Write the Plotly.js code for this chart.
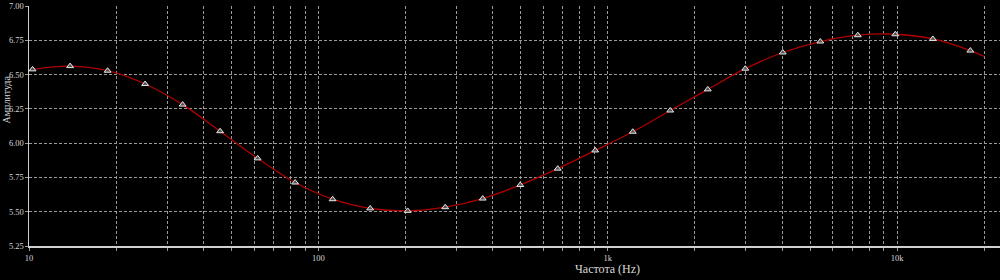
<!DOCTYPE html>
<html>
<head>
<meta charset="utf-8">
<script src="https://cdn.plot.ly/plotly-3.0.1.min.js"></script>
<style>html,body{margin:0;padding:0;background:#000;}#chart{width:1000px;height:280px;}</style>
</head>
<body>
<div id="chart"></div>
<script>
// Marker frequencies (Hz) and amplitudes
var markerFreq = [10.29, 13.87, 18.69, 25.19, 33.95, 45.76, 61.67, 83.11, 112.0, 151.0,
  203.5, 274.3, 369.7, 498.3, 671.5, 905.1, 1220, 1644, 2216, 2987,
  4025, 5426, 7313, 9856, 13284, 17904];
var markerAmp = [6.538, 6.562, 6.528, 6.431, 6.281, 6.087, 5.889, 5.713, 5.591, 5.524,
  5.506, 5.533, 5.596, 5.695, 5.814, 5.947, 6.083, 6.238, 6.392, 6.543,
  6.661, 6.741, 6.787, 6.794, 6.760, 6.675];
// Curve points
var curveFreq = [10, 10.29, 13.87, 18.69, 25.19, 33.95, 45.76, 61.67, 83.11, 112.0, 151.0,
  203.5, 274.3, 369.7, 498.3, 671.5, 905.1, 1220, 1644, 2216, 2987,
  4025, 5426, 7313, 9856, 13284, 17904, 20000];
var curveAmp = [6.533, 6.538, 6.562, 6.528, 6.431, 6.281, 6.087, 5.889, 5.713, 5.591, 5.524,
  5.506, 5.533, 5.596, 5.695, 5.814, 5.947, 6.083, 6.238, 6.392, 6.543,
  6.661, 6.741, 6.787, 6.794, 6.760, 6.675, 6.632];
var yTicks = [5.25, 5.50, 5.75, 6.00, 6.25, 6.50, 6.75, 7.00];
var xTickVals = [10,20,30,40,50,60,70,80,90,100,200,300,400,500,600,700,800,900,
  1000,2000,3000,4000,5000,6000,7000,8000,9000,10000,20000];
var xTickText = ['10','','','','','','','','','100','','','','','','','','',
  '1k','','','','','','','','','10k',''];

var tickFont = {family: 'Liberation Serif, serif', size: 8.5, color: '#d8d8d8'};
var traces = [
  {x: curveFreq, y: curveAmp, type: 'scatter', mode: 'lines',
   line: {color: '#b00000', width: 1.3, shape: 'spline', smoothing: 1.0}, hoverinfo: 'skip'},
  {x: markerFreq, y: markerAmp, type: 'scatter', mode: 'markers',
   marker: {symbol: 'triangle-up', size: 6, color: '#555555', line: {color: '#e8e8e8', width: 1}}}
];
var layout = {
  width: 1000, height: 280,
  paper_bgcolor: '#000', plot_bgcolor: '#000',
  showlegend: false,
  margin: {l: 29, r: 0, t: 6, b: 34},
  xaxis: {type: 'log', range: [1, 4.3554], tickmode: 'array', tickvals: xTickVals, ticktext: xTickText,
    showgrid: true, gridcolor: '#9a9a9a', griddash: '3px,2px', gridwidth: 1,
    showline: true, linecolor: '#d0d0d0', linewidth: 1.5,
    ticks: 'outside', ticklen: 3, tickcolor: '#9a9a9a', tickfont: tickFont, zeroline: false},
  yaxis: {range: [5.25, 7.00], tickmode: 'array', tickvals: yTicks, tickformat: '.2f',
    showgrid: true, gridcolor: '#9a9a9a', griddash: '3px,2px', gridwidth: 1,
    showline: true, linecolor: '#d0d0d0', linewidth: 1.5, ticklabelstandoff: -1,
    ticks: 'outside', ticklen: 3, tickcolor: '#9a9a9a', tickfont: tickFont, zeroline: false},
  annotations: [
    {text: 'Частота (Hz)', xref: 'paper', yref: 'paper', x: (607 - 29) / 971, y: (246 - 269) / 240, yanchor: 'middle',
     xanchor: 'center', showarrow: false, font: {family: 'Liberation Serif, serif', size: 12, color: '#d8d8d8'}},
    {text: 'Амплитуда', xref: 'paper', yref: 'paper', x: (-2 - 29) / 971, xanchor: 'left', y: (246 - 100) / 240, yanchor: 'middle',
     textangle: -90, showarrow: false, font: {family: 'Liberation Serif, serif', size: 10, color: '#d8d8d8'}}
  ]
};
Plotly.newPlot('chart', traces, layout, {displayModeBar: false, staticPlot: true});
</script>
</body>
</html>
